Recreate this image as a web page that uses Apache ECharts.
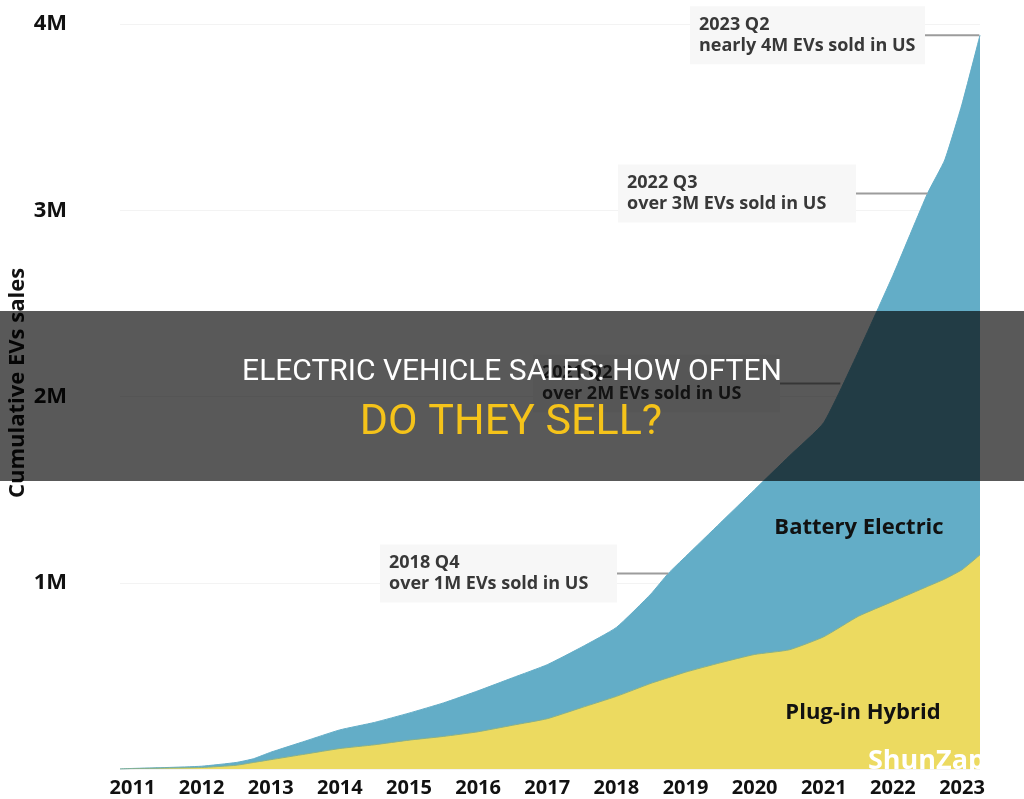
<!DOCTYPE html>
<html>
<head>
<meta charset="utf-8">
<title>Cumulative EV sales in the US</title>
<script src="https://cdn.jsdelivr.net/npm/echarts@6.0.0/dist/echarts.min.js"></script>
<style>
  html, body { margin: 0; padding: 0; background: #fff; }
  #chart { width: 1024px; height: 799px; }
</style>
</head>
<body>
<div id="chart"></div>
<script>
// time in fractional years (half-year steps, plus a few kinks)
const years = [2010.82, 2011, 2011.5, 2012, 2012.5, 2012.75, 2013, 2013.5, 2014, 2014.5,
  2015, 2015.5, 2016, 2016.5, 2017, 2017.5, 2018, 2018.5, 2018.75, 2019,
  2019.5, 2020, 2020.5, 2021, 2021.5, 2022, 2022.5, 2022.75, 2023, 2023.26]

// cumulative sales, millions: plug-in hybrids, and all EVs (top of the blue band)
const plugInHybrid = [0, 0.002, 0.005, 0.008, 0.02, 0.035, 0.05, 0.08, 0.11, 0.13,
  0.155, 0.175, 0.2, 0.235, 0.27, 0.33, 0.39, 0.46, 0.49, 0.52,
  0.57, 0.615, 0.64, 0.71, 0.82, 0.9, 0.98, 1.02, 1.07, 1.15]
const allEVs = [0, 0.003, 0.008, 0.015, 0.035, 0.055, 0.09, 0.15, 0.21, 0.25,
  0.3, 0.355, 0.42, 0.49, 0.56, 0.655, 0.76, 0.94, 1.05, 1.14,
  1.32, 1.5, 1.68, 1.86, 2.24, 2.65, 3.09, 3.27, 3.57, 3.94]

const yTicks = [0, 1, 2, 3, 4]

// milestone callouts (point where the connector meets the curve)
const milestones = [
  { t: 2023.25, v: 3.94, head: '2023 Q2', body: 'nearly 4M EVs sold in US', left: 690, width: 235 },
  { t: 2022.5, v: 3.09, head: '2022 Q3', body: 'over 3M EVs sold in US', left: 618, width: 238 },
  { t: 2021.24, v: 2.07, head: '2021 Q2', body: 'over 2M EVs sold in US', left: 533, width: 247 },
  { t: 2018.75, v: 1.05, head: '2018 Q4', body: 'over 1M EVs sold in US', left: 380, width: 237 }
]

const FONT = '"Open Sans", Lato, sans-serif'

const chart = echarts.init(document.getElementById('chart'), null, { renderer: 'canvas' })

const option = {
  backgroundColor: '#fff',
  animation: false,
  grid: { left: 120, right: 44, top: 24, bottom: 30 },
  xAxis: {
    type: 'value',
    min: years[0],
    max: years[years.length - 1],
    splitNumber: 12,
    axisLine: { show: false },
    axisTick: { show: false },
    splitLine: { show: false },
    axisLabel: {
      showMinLabel: false,
      showMaxLabel: false,
      margin: 9,
      color: '#111',
      fontFamily: FONT,
      fontWeight: 'bold',
      fontSize: 20,
      formatter: v => (Number.isInteger(v) ? String(v) : '')
    }
  },
  yAxis: {
    type: 'value',
    min: yTicks[0],
    max: yTicks[yTicks.length - 1],
    interval: 1,
    axisLine: { show: false },
    axisTick: { show: false },
    splitLine: { lineStyle: { color: '#f3f3f3', width: 1 } },
    axisLabel: {
      margin: 53,
      color: '#111',
      fontFamily: FONT,
      fontWeight: 'bold',
      fontSize: 22,
      formatter: v => (v === 0 ? '' : v + 'M')
    }
  },
  series: [
    {
      name: 'Battery Electric',
      type: 'line',
      smooth: 0.15,
      symbol: 'none',
      data: years.map((t, i) => [t, allEVs[i]]),
      lineStyle: { color: '#63adc7', width: 1 },
      areaStyle: { color: '#63adc7', opacity: 1 }
    },
    {
      name: 'Plug-in Hybrid',
      type: 'line',
      smooth: 0.15,
      symbol: 'none',
      data: years.map((t, i) => [t, plugInHybrid[i]]),
      lineStyle: { color: '#86b08c', width: 1 },
      areaStyle: { color: '#ecda60', opacity: 1 }
    }
  ]
}

chart.setOption(option)

// callouts, labels and the banner on top
const graphics = []

milestones.forEach(m => {
  const [px, py] = chart.convertToPixel({ gridIndex: 0 }, [m.t, m.v])
  graphics.push({
    type: 'rect', z: 10,
    shape: { x: m.left, y: py - 29, width: m.width, height: 58 },
    style: { fill: '#f7f7f7' }
  })
  graphics.push({
    type: 'text', z: 11,
    x: m.left + 9, y: py,
    style: {
      text: m.head + '\n' + m.body,
      font: 'bold 18px ' + FONT,
      lineHeight: 21,
      fill: '#383838',
      align: 'left',
      verticalAlign: 'middle'
    }
  })
  graphics.push({
    type: 'line', z: 10,
    shape: { x1: m.left + m.width, y1: py, x2: px, y2: py },
    style: { stroke: '#9c9c9c', lineWidth: 2 }
  })
})

graphics.push(
  {
    type: 'text', z: 12, x: 859, y: 528,
    style: { text: 'Battery Electric', font: 'bold 22px ' + FONT, fill: '#111', align: 'center', verticalAlign: 'middle' }
  },
  {
    type: 'text', z: 12, x: 863, y: 713,
    style: { text: 'Plug-in Hybrid', font: 'bold 22px ' + FONT, fill: '#111', align: 'center', verticalAlign: 'middle' }
  },
  {
    type: 'text', z: 12, x: 18, y: 383, rotation: Math.PI / 2,
    style: { text: 'Cumulative EVs sales', font: 'bold 22px ' + FONT, fill: '#111', align: 'center', verticalAlign: 'middle' }
  },
  {
    // watermark, white so it only shows on the coloured area
    type: 'text', z: 12, x: 868, y: 775,
    style: { text: 'ShunZap', font: 'bold 27px ' + FONT, fill: '#ffffff', align: 'left', verticalAlign: 'bottom' }
  },
  {
    type: 'rect', z: 100,
    shape: { x: 0, y: 311, width: 1024, height: 170 },
    style: { fill: 'rgba(0,0,0,0.65)' }
  },
  {
    type: 'text', z: 101, x: 512, y: 372,
    style: { text: 'ELECTRIC VEHICLE SALES: HOW OFTEN', font: '30px Roboto, sans-serif', fill: '#ffffff', align: 'center', verticalAlign: 'middle' }
  },
  {
    type: 'text', z: 101, x: 511, y: 423,
    style: { text: 'DO THEY SELL?', font: '43px Roboto, sans-serif', fill: '#f5c31a', align: 'center', verticalAlign: 'middle' }
  }
)

chart.setOption({ graphic: graphics })
</script>
</body>
</html>
